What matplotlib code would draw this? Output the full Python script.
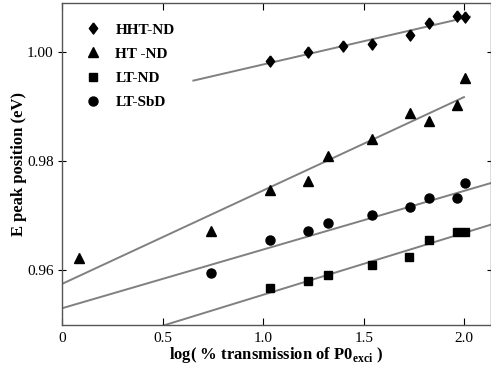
"""
E peak position vs log(% transmission) for four samples, with linear fits.
"""
import numpy as np
import matplotlib
matplotlib.use("Agg")
import matplotlib.pyplot as plt

plt.rcParams["font.family"] = ["Liberation Serif", "DejaVu Serif"]
plt.rcParams["mathtext.fontset"] = "custom"
plt.rcParams["mathtext.rm"] = "Liberation Serif:bold"
plt.rcParams["mathtext.bf"] = "Liberation Serif:bold"

# --- data ---
hht_x = [1.034, 1.224, 1.395, 1.539, 1.730, 1.823, 1.965, 2.003]
hht_y = [0.9983, 1.0000, 1.0011, 1.0014, 1.0031, 1.0053, 1.0066, 1.0064]

ht_x = [0.086, 0.739, 1.034, 1.224, 1.320, 1.539, 1.730, 1.823, 1.965, 2.003]
ht_y = [0.9622, 0.9672, 0.9747, 0.9762, 0.9809, 0.9840, 0.9888, 0.9872, 0.9903, 0.9952]

ltnd_x = [1.034, 1.224, 1.320, 1.539, 1.726, 1.823, 1.965, 2.003]
ltnd_y = [0.9566, 0.9580, 0.9590, 0.9609, 0.9624, 0.9655, 0.9670, 0.9670]

ltsbd_x = [0.739, 1.034, 1.224, 1.320, 1.539, 1.730, 1.823, 1.965, 2.003]
ltsbd_y = [0.9595, 0.9655, 0.9672, 0.9686, 0.9701, 0.9715, 0.9732, 0.9732, 0.9760]

labels = ["HHT-ND", "HT -ND", "LT-ND", "LT-SbD"]
# slightly tall diamond like the original
diamond = [(0, 1), (0.75, 0), (0, -1), (-0.75, 0), (0, 1)]
markers = [diamond, "^", "s", "o"]
msizes = [8, 7, 6, 6.5]

# linear fits: (slope, intercept, x start, x end)
fit_slope = [0.00852, 0.01713, 0.01135, 0.01076]
fit_icept = [0.98912, 0.95743, 0.94409, 0.95297]
fit_x0 = [0.653, 0.0, 0.0, 0.0]
fit_x1 = [2.028, 1.998, 2.2, 2.2]

xs = [hht_x, ht_x, ltnd_x, ltsbd_x]
ys = [hht_y, ht_y, ltnd_y, ltsbd_y]

fig = plt.figure(figsize=(4.91, 3.76), dpi=100)
ax = fig.add_axes([0.1263, 0.1356, 0.8727, 0.8564])

for i in range(4):
    lx = np.array([fit_x0[i], fit_x1[i]])
    ax.plot(lx, fit_slope[i] * lx + fit_icept[i], color="#808080", lw=1.4, zorder=1)
    ax.plot(xs[i], ys[i], ls="none", marker=markers[i], ms=msizes[i],
            color="black", label=labels[i], zorder=2)

ax.set_xlim(0, 2.13)
ax.set_ylim(0.9499, 1.0089)
ax.set_xticks([0, 0.5, 1.0, 1.5, 2.0])
ax.set_xticklabels(["0", "0.5", "1.0", "1.5", "2.0"])
ax.set_yticks([0.96, 0.98, 1.00])
ax.set_yticklabels(["0.96", "0.98", "1.00"])
ax.tick_params(axis="x", labelsize=11, direction="in", length=5,
               top=True, width=0.8, pad=5)
ax.tick_params(axis="y", labelsize=11, direction="inout", length=6,
               right=True, width=0.8, pad=3)
for s in ax.spines.values():
    s.set_color("#555555")
    s.set_linewidth(1.0)

ax.set_xlabel(r"log( % transmission of P0$_{\mathrm{exci}}$ )", fontsize=12,
              fontweight="bold", labelpad=0)
ax.set_ylabel("E peak position (eV)", fontsize=12, fontweight="bold")
ax.yaxis.set_label_coords(-0.082, 0.5)

leg = ax.legend(loc="upper left", frameon=False, prop={"weight": "bold", "size": 11},
                handletextpad=0.86, labelspacing=0.68, borderaxespad=0.3,
                handlelength=1.2, bbox_to_anchor=(0.026, 0.971))

fig.savefig("out.png", dpi=100)
